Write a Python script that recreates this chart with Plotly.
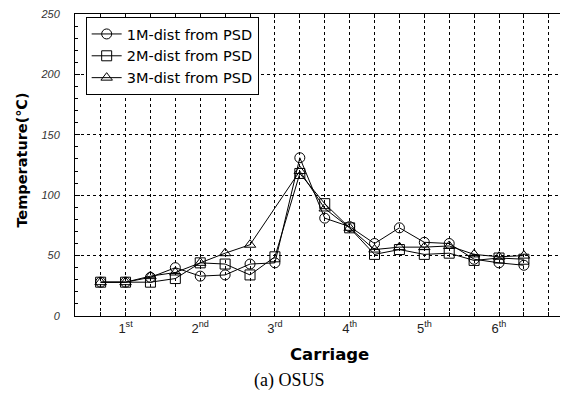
import plotly.graph_objects as go

# ---- data ----
positions = list(range(18))
series_1m = [28, 28, 32, 40, 33, 34, 43, 44, 131, 81, 74, 60, 73, 61, 60, 47, 44, 42]
series_2m = [28, 28, 28, 31, 44, 43, 34, 49, 118, 93, 73, 51, 55, 51, 52, 46, 48, 47]
series_3m = [28, 28, 33, 36, 44, 52, 59, None, 120, 89, 73, 55, 57, 57, 58, 51, 49, 50]
names = ["1M-dist from PSD", "2M-dist from PSD", "3M-dist from PSD"]
symbols = ["circle-open", "square-open", "triangle-up-open"]
carriage_pos = [1, 4, 7, 10, 13, 16]
carriage_labels = ["1<sup>st</sup>", "2<sup>nd</sup>", "3<sup>rd</sup>",
                   "4<sup>th</sup>", "5<sup>th</sup>", "6<sup>th</sup>"]
y_ticks = [0, 50, 100, 150, 200, 250]

fig = go.Figure()
for name, vals, sym in zip(names, [series_1m, series_2m, series_3m], symbols):
    fig.add_trace(go.Scatter(
        x=positions, y=vals, name=name, mode="lines+markers",
        connectgaps=True,
        line=dict(color="black", width=1),
        marker=dict(symbol=sym, size=10, color="black", line=dict(width=1)),
    ))

fig.update_layout(
    width=571, height=398,
    margin=dict(l=75, r=11, t=8, b=82),
    paper_bgcolor="white", plot_bgcolor="white",
    showlegend=True,
    legend=dict(
        x=0.022, y=0.99, xanchor="left", yanchor="top",
        bgcolor="white", bordercolor="black", borderwidth=1,
        font=dict(family="DejaVu Sans", size=14.5, color="black"),
        tracegroupgap=0, entrywidth=170,
    ),
    xaxis=dict(
        range=[-1.03, 18.45],
        tickmode="array", tickvals=carriage_pos, ticktext=carriage_labels,
        ticks="inside", ticklen=4, tickcolor="black",
        showgrid=True, gridcolor="black", griddash="dot", gridwidth=1,
        minor=dict(tickmode="array", tickvals=list(range(0, 19)),
                   showgrid=True, gridcolor="black", griddash="dot",
                   ticks="inside", ticklen=4, tickcolor="black"),
        showline=True, linecolor="black", linewidth=1, mirror="allticks",
        zeroline=False,
        tickfont=dict(family="Liberation Sans", size=13, color="#222"),
    ),
    yaxis=dict(
        range=[0, 250],
        tickmode="array", tickvals=y_ticks,
        ticks="inside", ticklen=5, tickcolor="black",
        showgrid=True, gridcolor="black", griddash="dot", gridwidth=1,
        minor=dict(dtick=10, ticks="inside", ticklen=3, tickcolor="black", showgrid=False),
        showline=True, linecolor="black", linewidth=1,
        zeroline=False, ticklabelstandoff=12,
        tickfont=dict(family="Liberation Sans", size=11, color="#333", style="italic"),
    ),
    annotations=[
        dict(text="<b>Temperature(℃)</b>", xref="paper", yref="paper",
             x=-0.109, y=0.515, textangle=-90, showarrow=False,
             xanchor="center", yanchor="middle",
             font=dict(family="DejaVu Sans", size=14.5, color="black")),
        dict(text="<b>Carriage</b>", xref="paper", yref="paper",
             x=0.524, y=-0.127, showarrow=False, xanchor="center", yanchor="middle",
             font=dict(family="DejaVu Sans", size=16.5, color="black")),
        dict(text="(a) OSUS", xref="paper", yref="paper",
             x=0.443, y=-0.213, showarrow=False, xanchor="center", yanchor="middle",
             font=dict(family="Liberation Serif", size=18, color="black")),
    ],
)

fig.write_html("out.html", config={"displayModeBar": False},
               post_script="document.body.style.margin='0';")
